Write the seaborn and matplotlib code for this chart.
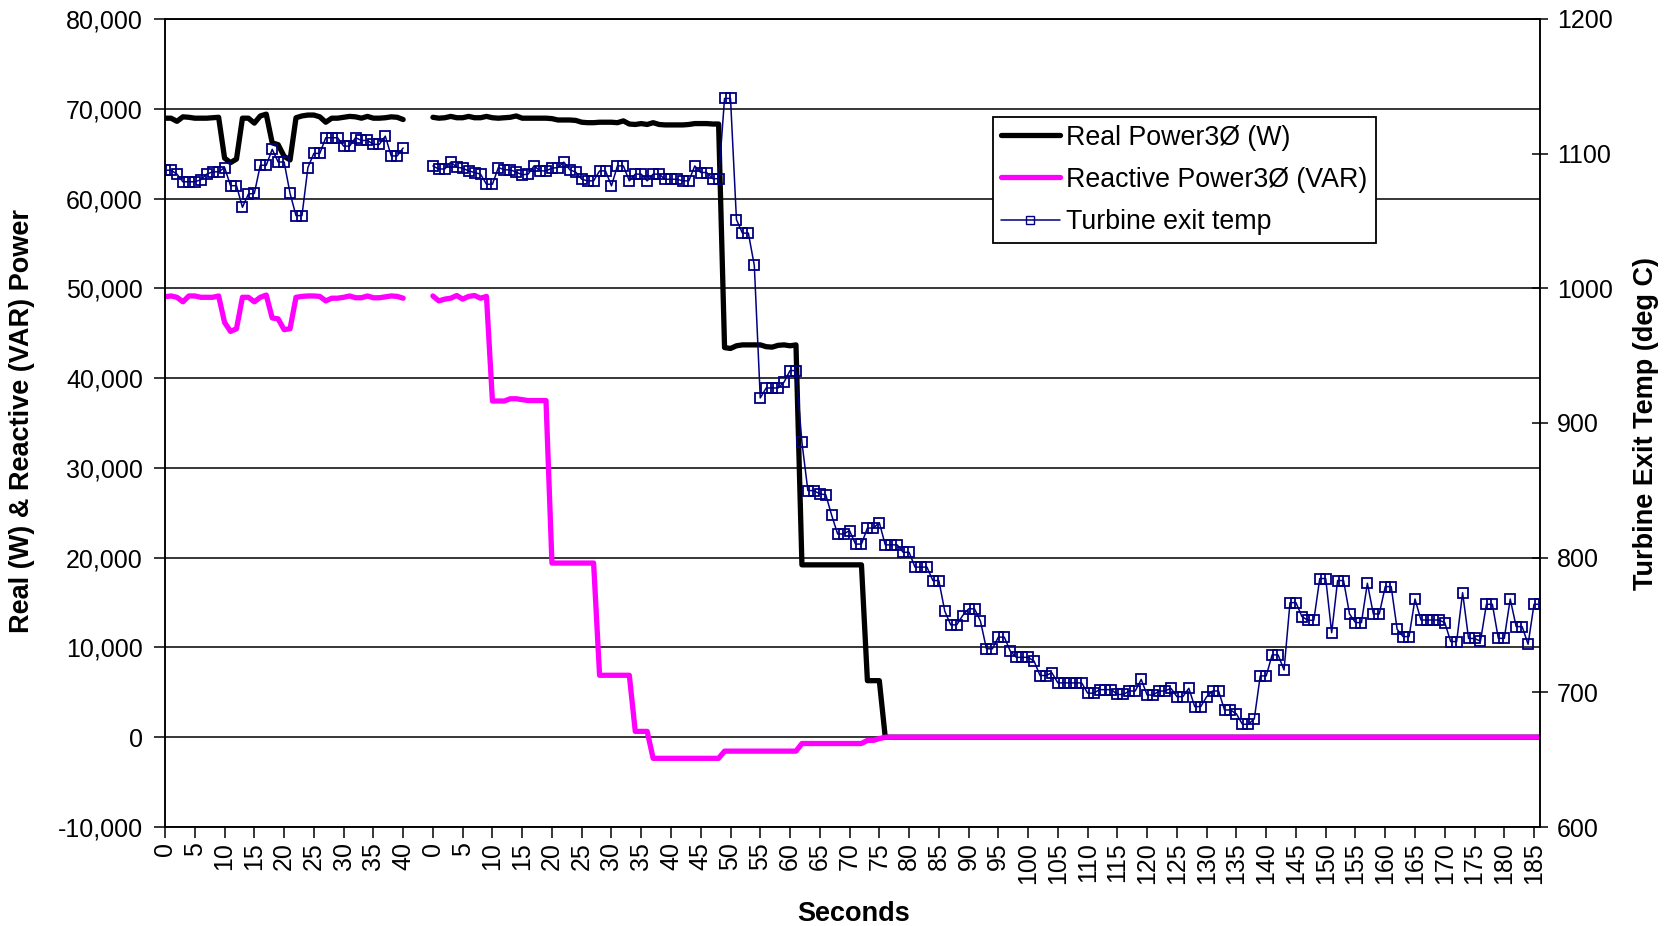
import numpy as np
import pandas as pd
import seaborn as sns
import matplotlib
matplotlib.use('Agg')
import matplotlib.pyplot as plt
from matplotlib.lines import Line2D
from matplotlib.ticker import FuncFormatter, MultipleLocator

sns.set_theme(style='white')
plt.rcParams['font.family'] = ['Liberation Sans', 'DejaVu Sans']

# ---- run 1 : 0..40 s ----
run1_real = [68950, 68950, 68600, 69100, 69050, 68950, 68950, 68950, 69000, 69050,
             64500, 64000, 64400, 68950, 68950, 68400, 69200, 69400, 66200, 66000,
             64700, 64300, 69000, 69200, 69300, 69300, 69100, 68500, 68950, 68950,
             69050, 69150, 69100, 68950, 69150, 68950, 68950, 69000, 69100, 69050,
             68800]
run1_reactive = [49070, 49150, 49000, 48500, 49150, 49150, 49000, 49000, 49000, 49150,
                 46200, 45200, 45500, 49000, 49000, 48500, 49000, 49250, 46700, 46600,
                 45400, 45500, 49000, 49100, 49150, 49150, 49100, 48600, 48900, 48900,
                 49000, 49150, 48950, 48950, 49150, 48950, 48950, 49050, 49150, 49100,
                 48900]
run1_temp = [1087.7, 1087.7, 1084.8, 1079.1, 1079.1, 1079.1, 1080.6, 1084.8, 1086.5, 1086.5,
             1089.7, 1076.2, 1076.2, 1060.2, 1070.0, 1070.5, 1091.4, 1091.4, 1103.2, 1093.8,
             1093.8, 1070.5, 1054.0, 1054.0, 1089.7, 1100.2, 1100.2, 1111.8, 1111.8, 1111.8,
             1105.6, 1105.6, 1111.8, 1109.8, 1109.8, 1106.9, 1106.9, 1113.0, 1098.3, 1098.3,
             1104.2]

# ---- run 2 : 0..186 s ----
run2_real = ([69050, 68950, 69000, 69150, 69000, 69000, 69150, 69000, 69000, 69150,
              69000, 68950, 69000, 69050, 69200, 68950, 68950, 68950, 68950, 68950,
              68900, 68750, 68750, 68750, 68700, 68500, 68450, 68450, 68500, 68500,
              68500, 68450, 68650, 68300, 68250, 68350, 68250, 68450, 68250, 68200,
              68200, 68200, 68200, 68250, 68350, 68350, 68350, 68300, 68300,
              43400, 43300, 43600, 43700, 43700, 43700, 43700, 43500, 43450, 43650,
              43700, 43600, 43700]
             + [19200] * 11 + [6300] * 3 + [0] * 111)
run2_reactive = ([49150, 48600, 48800, 48900, 49200, 48800, 49100, 49200, 48900, 49100,
                  37450, 37450, 37450, 37700, 37700, 37600, 37500, 37500, 37500, 37500]
                 + [19400] * 8 + [6900] * 6 + [650] * 3 + [-2350] * 12 + [-1550] * 13
                 + [-700] * 11 + [-350, -350, -150] + [0] * 111)
run2_temp = [1090.9, 1088.5, 1088.7, 1093.7, 1090.0, 1089.2, 1087.2, 1086.0, 1084.8, 1077.3,
             1077.3, 1089.7, 1088.0, 1088.0, 1086.3, 1084.3, 1084.8, 1090.9, 1087.2, 1087.2,
             1089.2, 1089.7, 1093.7, 1088.0, 1086.3, 1081.0, 1079.8, 1079.8, 1087.2, 1087.2,
             1076.1, 1090.9, 1090.9, 1079.8, 1084.8, 1084.8, 1079.8, 1084.8, 1084.8, 1081.0,
             1081.0, 1081.0, 1079.8, 1079.8, 1090.9, 1086.0, 1086.0, 1081.4, 1081.4, 1141.0,
             1141.0, 1051.0, 1041.0, 1041.0, 1017.0, 918.6, 926.0, 926.0, 926.0, 930.4,
             938.9, 938.9, 885.6, 849.8, 849.8, 847.3, 846.8, 831.4, 817.6, 817.6,
             820.1, 810.1, 810.1, 822.0, 822.0, 826.0, 809.5, 809.5, 809.5, 804.0,
             804.0, 793.0, 793.0, 793.0, 783.0, 783.0, 760.3, 750.1, 750.1, 757.0,
             762.0, 762.0, 752.8, 732.3, 732.3, 741.0, 741.0, 730.6, 726.0, 726.0,
             726.0, 723.2, 712.5, 712.5, 714.5, 707.0, 707.0, 707.0, 707.0, 707.0,
             699.4, 699.4, 702.0, 702.0, 702.0, 698.4, 698.4, 701.0, 701.0, 709.6,
             698.0, 698.0, 701.0, 701.0, 703.0, 696.8, 696.8, 703.0, 689.4, 689.4,
             696.8, 701.0, 701.0, 686.9, 686.9, 684.0, 676.3, 676.3, 680.3, 712.2,
             712.2, 727.8, 727.8, 716.6, 766.6, 766.6, 756.3, 753.5, 753.5, 784.5,
             784.5, 744.3, 783.0, 783.0, 758.2, 751.8, 751.8, 781.0, 758.2, 758.2,
             778.5, 778.5, 746.8, 741.4, 741.4, 769.3, 753.7, 753.7, 753.7, 753.7,
             751.8, 737.7, 737.7, 774.0, 740.0, 740.0, 738.0, 765.4, 765.4, 740.1,
             740.1, 769.3, 748.8, 748.8, 735.7, 765.4, 765.4]

GAP = 4  # empty categories between the two runs
run1_x = np.arange(len(run1_temp))
run2_x = np.arange(len(run2_temp)) + len(run1_temp) + GAP
n_cat = len(run1_temp) + GAP + len(run2_temp)

fig = plt.figure(figsize=(16.69, 9.26), dpi=100)
ax = fig.add_axes([0.0989, 0.1069, 0.8238, 0.8726])
ax2 = ax.twinx()

for x, real, reac in ((run1_x, run1_real, run1_reactive), (run2_x, run2_real, run2_reactive)):
    sns.lineplot(x=x, y=real, ax=ax, color='black', linewidth=3.8)
    sns.lineplot(x=x, y=reac, ax=ax, color='#FF00FF', linewidth=3.8)

for x, t in ((run1_x, run1_temp), (run2_x, run2_temp)):
    sns.lineplot(x=x, y=t, ax=ax2, color='#000080', linewidth=1.1, marker='s',
                 markersize=7, markerfacecolor='none', markeredgecolor='#000080',
                 markeredgewidth=1.3)

# axes ranges / ticks
ax.set_xlim(0, n_cat - 1)
ax.set_ylim(-10000, 80000)
ax2.set_ylim(600, 1200)

ticks = list(range(0, n_cat, 5))
labels = []
for k in ticks:
    if k < len(run1_temp):
        labels.append(str(k))
    elif k >= len(run1_temp) + GAP:
        labels.append(str(k - len(run1_temp) - GAP))
    else:
        labels.append('')
ax.set_xticks(ticks)
ax.set_xticklabels(labels, rotation=90)

ax.yaxis.set_major_locator(MultipleLocator(10000))
ax.yaxis.set_major_formatter(FuncFormatter(lambda v, p: f'{v:,.0f}'))
ax2.yaxis.set_major_locator(MultipleLocator(100))

ax.tick_params(axis='x', bottom=True, direction='out', length=8, width=1.1,
               color='black', labelsize=18, pad=3, labelcolor='black')
ax.tick_params(axis='y', left=True, direction='out', length=8, width=1.1,
               color='black', labelsize=18, pad=8, labelcolor='black')
ax2.tick_params(axis='y', right=True, direction='inout', length=12, width=1.1,
                color='black', labelsize=18, pad=6, labelcolor='black')

ax.grid(axis='y', color='black', linewidth=1.1)
ax.grid(axis='x', visible=False)
ax2.grid(False)
for a in (ax, ax2):
    for s in a.spines.values():
        s.set_color('black')
        s.set_linewidth(1.1)

ax.set_xlabel('Seconds', fontsize=19.5, fontweight='bold', color='black')
ax.set_ylabel('Real (W) & Reactive (VAR) Power', fontsize=19.5, fontweight='bold', color='black')
ax2.set_ylabel('Turbine Exit Temp (deg C)', fontsize=19.5, fontweight='bold', color='black')
ax.xaxis.set_label_coords(0.501, -0.091)
ax.yaxis.set_label_coords(-0.0945, 0.502)
ax2.yaxis.set_label_coords(1.068, 0.499)

handles = [
    Line2D([], [], color='black', linewidth=3.8, label='Real Power3Ø (W)'),
    Line2D([], [], color='#FF00FF', linewidth=3.8, label='Reactive Power3Ø (VAR)'),
    Line2D([], [], color='#000080', linewidth=1.1, marker='s', markersize=6,
           markerfacecolor='none', markeredgecolor='#000080', label='Turbine exit temp'),
]
leg = ax2.legend(handles=handles, loc='upper left', bbox_to_anchor=(0.602, 0.879),
                 frameon=True, fancybox=False, edgecolor='black', framealpha=1,
                 fontsize=19.3, borderpad=0.3, handlelength=2.2, labelspacing=0.6,
                 handletextpad=0.25, borderaxespad=0)
leg.get_frame().set_linewidth(1.3)
for txt in leg.get_texts():
    txt.set_color('black')

fig.savefig('out.png', dpi=100, facecolor='white')
